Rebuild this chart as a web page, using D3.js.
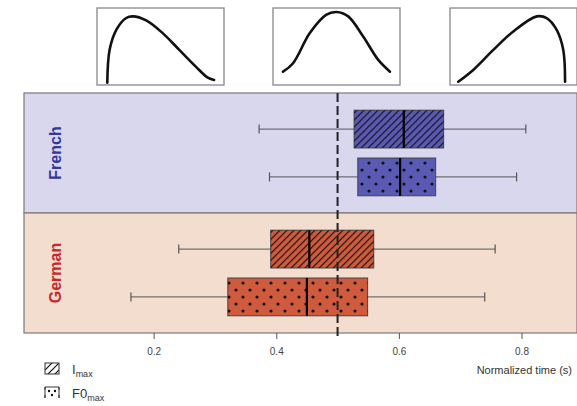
<!DOCTYPE html>
<html>
<head>
<meta charset="utf-8">
<script src="https://d3js.org/d3.v7.min.js"></script>
<style>
  body { margin: 0; background: #fff; }
  svg { display: block; font-family: "Liberation Sans", Arial, sans-serif; }
</style>
</head>
<body>
<div id="graph"></div>
<script>
// data
var groups = ['French', 'German'];
var measures = ['Imax', 'F0max'];
// [group, measure, low whisker, q1, median, q3, high whisker]
var boxStats = [
    ['French', 'Imax', 0.372, 0.527, 0.608, 0.673, 0.807],
    ['French', 'F0max', 0.389, 0.533, 0.602, 0.660, 0.792],
    ['German', 'Imax', 0.241, 0.391, 0.454, 0.559, 0.757],
    ['German', 'F0max', 0.163, 0.321, 0.450, 0.549, 0.740]
];
var xTicks = [0.2, 0.4, 0.6, 0.8];
var refLine = 0.5;

// top thumbnails: contour shapes, [t, value] in 0..1
var shapeEarly = [[0.081, 0.03], [0.099, 0.456], [0.152, 0.717], [0.230, 0.870], [0.282, 0.891],
    [0.387, 0.839], [0.517, 0.674], [0.648, 0.456], [0.778, 0.239], [0.869, 0.100], [0.922, 0.065]];
var shapeMid = [[0.079, 0.173], [0.158, 0.283], [0.290, 0.674], [0.421, 0.913], [0.500, 0.948],
    [0.592, 0.891], [0.710, 0.630], [0.829, 0.326], [0.921, 0.173]];
var shapeLate = [[0.065, 0.043], [0.183, 0.196], [0.341, 0.456], [0.498, 0.695], [0.683, 0.891],
    [0.761, 0.870], [0.840, 0.717], [0.892, 0.456], [0.906, 0.043]];

var width = 577, height = 406;
var panelLeft = 24, panelRight = 577, panelTop = 93, panelBottom = 333;

var svg = d3.select('#graph').append('svg')
    .attr('width', width)
    .attr('height', height);

var defs = svg.append('defs');

var hatch = defs.append('pattern')
    .attr('id', 'hatch')
    .attr('patternUnits', 'userSpaceOnUse')
    .attr('width', 7).attr('height', 7);
hatch.append('path')
    .attr('d', 'M-1,1 l2,-2 M0,7 l7,-7 M6,8 l2,-2')
    .attr('stroke', '#111').attr('stroke-width', 1.2);

var dots = defs.append('pattern')
    .attr('id', 'dots')
    .attr('patternUnits', 'userSpaceOnUse')
    .attr('width', 14).attr('height', 14)
    .attr('x', 3).attr('y', 3);
dots.append('circle').attr('cx', 2).attr('cy', 2).attr('r', 1.6).attr('fill', '#111');
dots.append('circle').attr('cx', 9).attr('cy', 9).attr('r', 1.6).attr('fill', '#111');

var x = d3.scaleLinear()
    .domain([0, 0.8])
    .range([31, 521.5]);

var yGroup = d3.scaleBand()
    .domain(groups)
    .range([panelTop, panelBottom]);

var yMeasure = d3.scaleBand()
    .domain(measures)
    .range([0, 120])
    .paddingInner(0.21)
    .paddingOuter(0.36);

var bgColor = { French: '#d9d7ee', German: '#f2ddcf' };
var boxColor = { French: '#5a5ab4', German: '#cf5a3c' };
var labelColor = { French: '#34379a', German: '#c8282c' };
var patternOf = { Imax: 'url(#hatch)', F0max: 'url(#dots)' };

// background bands
svg.selectAll('.band')
    .data(groups)
    .enter().append('rect')
    .attr('x', panelLeft)
    .attr('y', function(d) { return yGroup(d); })
    .attr('width', panelRight - panelLeft)
    .attr('height', yGroup.bandwidth())
    .attr('fill', function(d) { return bgColor[d]; })
    .attr('stroke', '#7a7a7a')
    .attr('stroke-width', 1.2);

// group labels
svg.selectAll('.glabel')
    .data(groups)
    .enter().append('text')
    .attr('transform', function(d) {
        return 'translate(61,' + (yGroup(d) + yGroup.bandwidth() / 2) + ') rotate(-90)';
    })
    .attr('text-anchor', 'middle')
    .attr('font-size', 16)
    .attr('font-weight', 'bold')
    .attr('fill', function(d) { return labelColor[d]; })
    .text(function(d) { return d; });

// x axis
var axis = svg.append('g')
    .attr('transform', 'translate(0,' + panelBottom + ')')
    .call(d3.axisBottom(x).tickValues(xTicks).tickSize(6).tickSizeOuter(0).tickFormat(d3.format('.1f')));
axis.select('.domain').remove();
axis.selectAll('line').attr('stroke', '#555');
axis.selectAll('text')
    .attr('fill', '#444')
    .attr('font-size', 10)
    .attr('dy', '1.3em');

svg.append('text')
    .attr('x', 572)
    .attr('y', 374)
    .attr('text-anchor', 'end')
    .attr('font-size', 11)
    .attr('fill', '#333')
    .text('Normalized time (s)');

// boxes
var rows = svg.selectAll('.row')
    .data(boxStats)
    .enter().append('g')
    .attr('transform', function(d) { return 'translate(0,' + (yGroup(d[0]) + yMeasure(d[1])) + ')'; });

var bw = yMeasure.bandwidth();

rows.append('line')
    .attr('x1', function(d) { return x(d[2]); })
    .attr('x2', function(d) { return x(d[6]); })
    .attr('y1', bw / 2).attr('y2', bw / 2)
    .attr('stroke', '#555').attr('stroke-width', 1);

rows.selectAll('.cap')
    .data(function(d) { return [d[2], d[6]]; })
    .enter().append('line')
    .attr('x1', function(v) { return x(v); })
    .attr('x2', function(v) { return x(v); })
    .attr('y1', bw / 2 - 4.5).attr('y2', bw / 2 + 4.5)
    .attr('stroke', '#555').attr('stroke-width', 1.2);

rows.append('rect')
    .attr('x', function(d) { return x(d[3]); })
    .attr('width', function(d) { return x(d[5]) - x(d[3]); })
    .attr('y', 0).attr('height', bw)
    .attr('fill', function(d) { return boxColor[d[0]]; })
    .attr('stroke', '#444').attr('stroke-width', 1);

rows.append('rect')
    .attr('x', function(d) { return x(d[3]); })
    .attr('width', function(d) { return x(d[5]) - x(d[3]); })
    .attr('y', 0).attr('height', bw)
    .attr('fill', function(d) { return patternOf[d[1]]; });

rows.append('line')
    .attr('x1', function(d) { return x(d[4]); })
    .attr('x2', function(d) { return x(d[4]); })
    .attr('y1', 0).attr('y2', bw)
    .attr('stroke', '#000').attr('stroke-width', 2.2);

// reference dashed line
svg.append('line')
    .attr('x1', x(refLine)).attr('x2', x(refLine))
    .attr('y1', panelTop).attr('y2', panelBottom + 6)
    .attr('stroke', '#222')
    .attr('stroke-width', 2)
    .attr('stroke-dasharray', '9,4');

// thumbnails
var thumbs = [
    { x0: 97, shape: shapeEarly },
    { x0: 273, shape: shapeMid },
    { x0: 450, shape: shapeLate }
];
var tw = 127, ty0 = 8, th = 77;

thumbs.forEach(function(t) {
    var g = svg.append('g').attr('transform', 'translate(' + t.x0 + ',' + ty0 + ')');
    g.append('rect')
        .attr('width', tw).attr('height', th)
        .attr('fill', '#fff')
        .attr('stroke', '#888').attr('stroke-width', 1.3);
    var sx = d3.scaleLinear().domain([0, 1]).range([0, tw]);
    var sy = d3.scaleLinear().domain([0, 1]).range([th, 0]);
    g.append('path')
        .datum(t.shape)
        .attr('d', d3.line()
            .x(function(d) { return sx(d[0]); })
            .y(function(d) { return sy(d[1]); })
            .curve(d3.curveCatmullRom.alpha(0.5)))
        .attr('fill', 'none')
        .attr('stroke', '#111')
        .attr('stroke-width', 2.6)
        .attr('stroke-linecap', 'round');
});

// legend
var legend = [
    { m: 'Imax', base: 'I', sub: 'max', y: 363 },
    { m: 'F0max', base: 'F0', sub: 'max', y: 387 }
];
legend.forEach(function(l) {
    var g = svg.append('g').attr('transform', 'translate(45,' + l.y + ')');
    g.append('rect')
        .attr('width', 14).attr('height', 11)
        .attr('fill', '#fff');
    if (l.m === 'Imax') {
        g.append('rect').attr('width', 14).attr('height', 11)
            .attr('fill', patternOf[l.m]).attr('stroke', '#333').attr('stroke-width', 1);
    } else {
        g.append('path')
            .attr('d', 'M0,3 V0 H14 V3 M0,8 V11 M14,8 V11 M0,0 V11 M14,0 V11')
            .attr('fill', 'none').attr('stroke', '#333').attr('stroke-width', 1);
        g.append('circle').attr('cx', 4).attr('cy', 4).attr('r', 1.2).attr('fill', '#111');
        g.append('circle').attr('cx', 10).attr('cy', 4).attr('r', 1.2).attr('fill', '#111');
        g.append('circle').attr('cx', 7).attr('cy', 8).attr('r', 1.2).attr('fill', '#111');
    }
    var t = g.append('text')
        .attr('x', 27).attr('y', 10.5)
        .attr('font-size', 13)
        .attr('fill', '#333');
    t.append('tspan').text(l.base);
    t.append('tspan').attr('font-size', 9).attr('dy', 3).text(l.sub);
});
</script>
</body>
</html>
